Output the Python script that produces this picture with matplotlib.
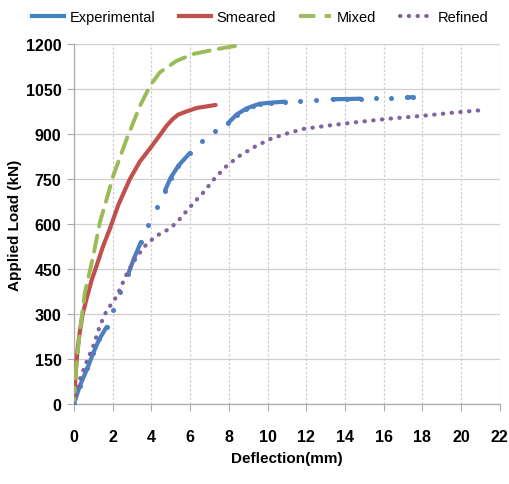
import matplotlib
matplotlib.use("Agg")
import matplotlib.pyplot as plt
from matplotlib.lines import Line2D

plt.rcParams['font.family'] = ['Liberation Sans', 'DejaVu Sans']

# experimental readings, grouped into the runs the logger recorded continuously
exp_runs = [
    ([0.0, 0.3, 0.7, 1.0, 1.3, 1.69], [0, 60, 120, 170, 215, 257]),
    ([2.03], [313]),
    ([2.38], [373]),
    ([2.8, 3.1, 3.46], [433, 485, 540]),
    ([3.82], [597]),
    ([4.27], [657]),
    ([4.7, 5.0, 5.4, 5.99], [711, 755, 795, 837]),
    ([6.6], [876]),
    ([7.3], [909]),
    ([7.97, 8.4, 8.9, 9.26, 9.6, 10.2, 10.9], [937, 965, 985, 994, 1001, 1005, 1008]),
    ([11.7], [1011]),
    ([12.5], [1012]),
    ([13.36, 14.1, 14.82], [1016, 1017, 1018]),
    ([15.6], [1019]),
    ([16.4], [1020]),
    ([17.2, 17.5], [1022, 1023]),
]

smeared_x = [0.0, 0.05, 0.12, 0.2, 0.3, 0.45, 0.65, 0.9, 1.17, 1.5, 1.86, 2.3, 2.89, 3.4,
             3.93, 4.4, 4.79, 5.1, 5.39, 5.8, 6.34, 7.32]
smeared_y = [0, 60, 130, 190, 239, 300, 350, 410, 461, 525, 585, 665, 750, 808,
             852, 893, 928, 950, 965, 975, 987, 997]

mixed_x = [0.0, 0.1, 0.3, 0.57, 1.0, 1.34, 1.69, 2.03, 2.72, 3.41, 3.93, 4.44, 5.3, 6.16, 7.2, 7.89, 8.66]
mixed_y = [0, 110, 240, 373, 494, 606, 683, 761, 883, 994, 1061, 1106, 1144, 1167, 1181, 1189, 1197]

refined_x = [0.0, 0.05, 0.31, 0.65, 1.0, 1.34, 1.69, 2.12, 2.38, 2.72, 3.15, 3.75, 4.27, 4.96,
             5.39, 6.08, 6.68, 7.28, 7.89, 8.57, 9.35, 10.12, 10.9, 11.84, 13.1, 14.77, 16.4,
             18.04, 19.68, 21.3]
refined_y = [0, 10, 83, 140, 194, 261, 311, 350, 383, 433, 483, 533, 561, 585,
             611, 663, 705, 753, 794, 828, 858, 883, 900, 917, 928, 941, 952,
             961, 972, 981]

x_ticks = list(range(0, 23, 2))
y_ticks = list(range(0, 1201, 150))

c_exp = '#4a7fc1'
c_sme = '#c0504d'
c_mix = '#9bbb59'
c_ref = '#8064a2'

fig = plt.figure(figsize=(5.1, 4.85), dpi=100)
ax = fig.add_axes([0.145, 0.165, 0.835, 0.742])

for xs, ys in exp_runs:
    ax.plot(xs, ys, color=c_exp, lw=3.0, marker='o', ms=3.6, mew=0,
            solid_capstyle='round', solid_joinstyle='round', zorder=3)
ax.plot(smeared_x, smeared_y, color=c_sme, lw=3.0, solid_capstyle='round',
        solid_joinstyle='round', zorder=3)
ax.plot(mixed_x, mixed_y, color=c_mix, lw=2.8, linestyle=(0, (4.2, 2.4)),
        dash_capstyle='round', zorder=3)
ax.plot(refined_x, refined_y, color=c_ref, lw=3.0, linestyle=(0, (0.1, 2.0)),
        dash_capstyle='round', zorder=3)

ax.set_xlim(0, 22)
ax.set_ylim(0, 1200)
ax.set_xticks(x_ticks)
ax.set_yticks(y_ticks)
ax.set_xticklabels([str(t) for t in x_ticks], fontsize=11.5, fontweight='bold')
ax.set_yticklabels([str(t) for t in y_ticks], fontsize=11.5, fontweight='bold')
ax.tick_params(axis='x', length=5, width=0.8, color='#aaaaaa', pad=13)
ax.tick_params(axis='y', length=5, width=0.8, color='#aaaaaa', pad=4)

ax.grid(axis='y', color='#cfcfcf', lw=0.9, linestyle='-')
ax.grid(axis='x', color='#cfcfcf', lw=0.9, linestyle=(0, (2, 1.5)))
ax.set_axisbelow(True)
for side in ['top', 'right']:
    ax.spines[side].set_visible(False)
for side in ['left', 'bottom']:
    ax.spines[side].set_color('#aaaaaa')
    ax.spines[side].set_linewidth(0.9)

ax.set_xlabel('Deflection(mm)', fontsize=11, fontweight='bold', labelpad=5)
ax.set_ylabel('Applied Load (kN)', fontsize=11, fontweight='bold', labelpad=3)

handles = [
    Line2D([], [], color=c_exp, lw=3.0),
    Line2D([], [], color=c_sme, lw=3.0),
    Line2D([], [], color=c_mix, lw=2.8, linestyle=(0, (4.2, 2.4))),
    Line2D([], [], color=c_ref, lw=3.0, linestyle=(0, (0.1, 2.0)), dash_capstyle='round'),
]
fig.legend(handles, ['Experimental', 'Smeared', 'Mixed', 'Refined'],
           loc='center', bbox_to_anchor=(0.51, 0.963), ncol=4, frameon=False,
           fontsize=10.5, handlelength=2.2, columnspacing=1.6, handletextpad=0.4)

fig.savefig('out.png', dpi=100)
